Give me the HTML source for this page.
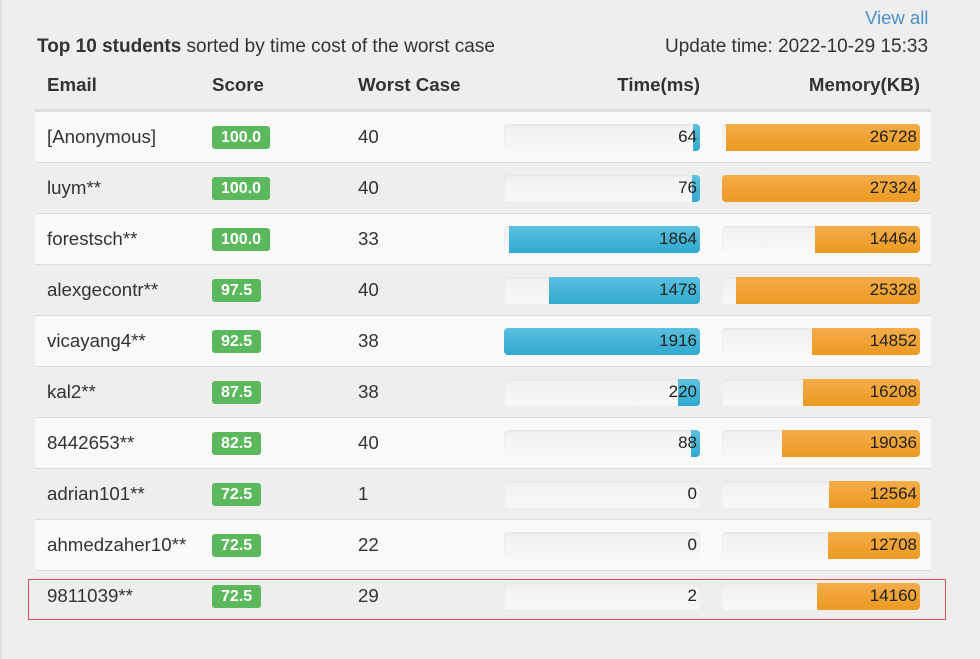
<!DOCTYPE html><html><head><style>
body{margin:0;width:980px;height:659px;background:#eeeeee;font-family:"Liberation Sans",sans-serif;color:#333;position:relative;overflow:hidden}
.a{position:absolute;white-space:nowrap}
.row{position:absolute;left:35px;width:896px;height:50px;border-top:1px solid #ddd}
.c{position:absolute;top:0;line-height:50px;font-size:18.7px}
.b{position:absolute;left:177px;top:14px;height:23px;line-height:23px;background:#5cb85c;color:#fff;font-weight:bold;font-size:16px;border-radius:3px;padding:0 9px}
.bar{position:absolute;top:12px;height:27px;border-radius:4px;background:linear-gradient(#f0f0f0,#f8f8f8);overflow:hidden;box-shadow:inset 0 1px 2px rgba(0,0,0,.06)}
.f{position:absolute;right:0;top:0;bottom:0}
.t{background:linear-gradient(#5bc0de,#31a9d0)}
.m{background:linear-gradient(#f4ad49,#eb9a22)}
.v{position:absolute;right:3px;top:1px;line-height:24px;font-size:17px;color:#222}
</style></head><body>
<div class="a" style="left:0;top:0;width:2px;height:659px;background:#dfe3dc"></div>
<div class="a" style="left:865px;top:7px;font-size:18.5px;color:#4a90c8">View all</div>
<div class="a" style="left:37px;top:36px;font-size:19px"><b>Top 10 students</b> sorted by time cost of the worst case</div>
<div class="a" style="left:665px;top:36px;font-size:19px">Update time: 2022-10-29 15:33</div>
<div class="a" style="left:47px;top:74px;font-size:18.7px;font-weight:bold">Email</div>
<div class="a" style="left:212px;top:74px;font-size:18.7px;font-weight:bold">Score</div>
<div class="a" style="left:358px;top:74px;font-size:18.7px;font-weight:bold">Worst Case</div>
<div class="a" style="right:280px;top:74px;font-size:18.7px;font-weight:bold">Time(ms)</div>
<div class="a" style="right:60px;top:74px;font-size:18.7px;font-weight:bold">Memory(KB)</div>
<div class="a" style="left:35px;top:109px;width:896px;height:2px;background:#ddd"></div>
<div id="rows"></div>
<div class="a" style="left:28px;top:579px;width:916px;height:39px;border:1px solid #d9534f;z-index:5"></div>
<script>
var d=[["[Anonymous]","100.0",40,64,26728],["luym**","100.0",40,76,27324],["forestsch**","100.0",33,1864,14464],["alexgecontr**","97.5",40,1478,25328],["vicayang4**","92.5",38,1916,14852],["kal2**","87.5",38,220,16208],["8442653**","82.5",40,88,19036],["adrian101**","72.5",1,0,12564],["ahmedzaher10**","72.5",22,0,12708],["9811039**","72.5",29,2,14160]];
var h="";d.forEach(function(r,i){var tw=r[3]>10?Math.max(7,r[3]/1916*196):0,mw=r[4]/27324*198;
h+='<div class="row" style="top:'+(111+i*51)+'px;background:'+(i%2==0?'#f9f9f9':'#eeeeee')+'"><div class="c" style="left:12px">'+r[0]+'</div><div class="b">'+r[1]+'</div><div class="c" style="left:323px">'+r[2]+'</div><div class="bar" style="left:469px;width:196px"><div class="f t" style="width:'+tw+'px"></div><div class="v">'+r[3]+'</div></div><div class="bar" style="left:687px;width:198px"><div class="f m" style="width:'+mw+'px"></div><div class="v">'+r[4]+'</div></div></div>';});
document.getElementById("rows").innerHTML=h;
</script>
</body></html>
